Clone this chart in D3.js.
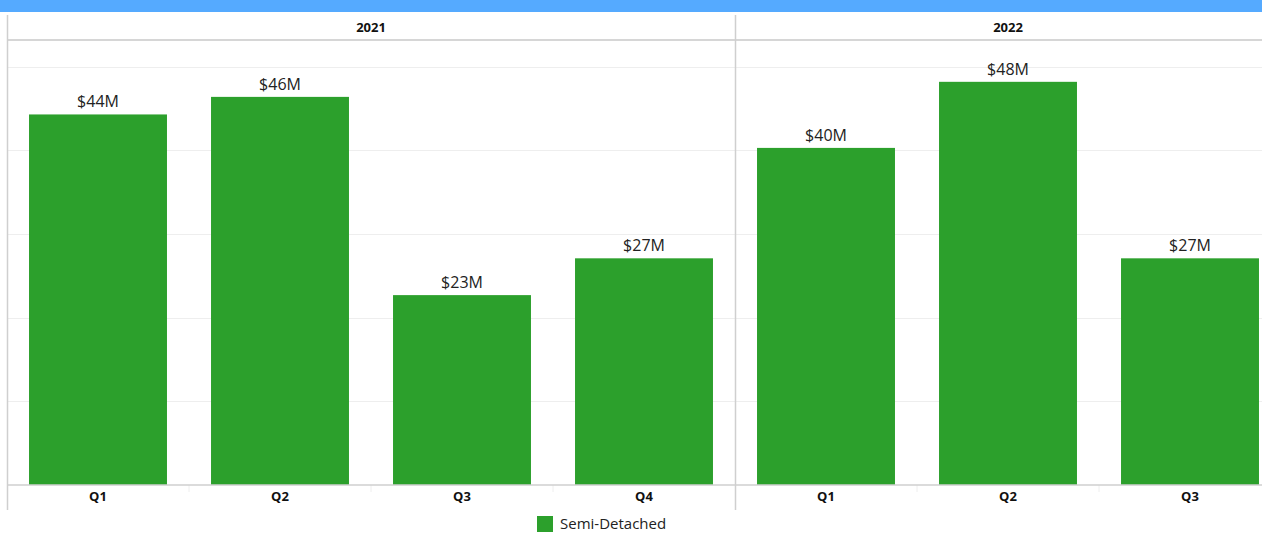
<!DOCTYPE html>
<html>
<head>
<meta charset="utf-8">
<script src="https://cdn.jsdelivr.net/npm/d3@7"></script>
<style>
  html, body { margin: 0; padding: 0; background: #fff; overflow: hidden; }
  svg { display: block; }
</style>
</head>
<body>
<svg id="chart" width="1262" height="533"></svg>
<script>
// Quarterly sales value of semi-detached homes, in $M
const years = ["2021", "2022"];
const quarters2021 = ["Q1", "Q2", "Q3", "Q4"];
const values2021 = [44.3, 46.4, 22.7, 27.1];
const quarters2022 = ["Q1", "Q2", "Q3"];
const values2022 = [40.3, 48.2, 27.1];
const gridTicks = [10, 20, 30, 40, 50];
const seriesName = "Semi-Detached";

const panels = [
  { year: years[0], quarters: quarters2021, values: values2021 },
  { year: years[1], quarters: quarters2022, values: values2022 }
];

const green = "#2ca02c";
const svg = d3.select("#chart");
const W = 1262;

// layout
const left = 7, headerTop = 15, headerBottom = 40, baseY = 485, bottomY = 510;
const bandW = 182;

const y = d3.scaleLinear().domain([0, 53.2]).range([baseY, headerBottom]);

// title band
svg.append("rect").attr("x", 0).attr("y", 0).attr("width", W).attr("height", 12).attr("fill", "#55aaff");

// horizontal gridlines
svg.append("g").selectAll("line").data(gridTicks).join("line")
  .attr("x1", left).attr("x2", W)
  .attr("y1", d => Math.round(y(d)) + 0.5).attr("y2", d => Math.round(y(d)) + 0.5)
  .attr("stroke", "#eeeeee").attr("stroke-width", 1);

// header bottom rule
svg.append("line").attr("x1", left).attr("x2", W)
  .attr("y1", headerBottom).attr("y2", headerBottom)
  .attr("stroke", "#d6d6d6").attr("stroke-width", 2);

let x0 = left;
panels.forEach(p => {
  const x = d3.scaleBand().domain(p.quarters)
    .range([x0, x0 + bandW * p.quarters.length])
    .paddingInner(0.242).paddingOuter(0.121);
  const x1 = x0 + bandW * p.quarters.length;
  const g = svg.append("g");

  // panel divider on the left
  g.append("line").attr("x1", x0 + 0.5).attr("x2", x0 + 0.5)
    .attr("y1", headerTop).attr("y2", bottomY)
    .attr("stroke", "#cfcfcf").attr("stroke-width", 1.5);

  // header label
  g.append("text").attr("x", (x0 + x1) / 2).attr("y", 32)
    .attr("text-anchor", "middle")
    .attr("font-family", "'Open Sans', sans-serif")
    .attr("font-weight", "bold").attr("font-size", 13).attr("fill", "#111")
    .text(p.year);

  const data = p.quarters.map((q, i) => ({ q, v: p.values[i] }));

  // bars
  g.selectAll("rect.bar").data(data).join("rect").attr("class", "bar")
    .attr("x", d => x(d.q)).attr("width", x.bandwidth())
    .attr("y", d => y(d.v)).attr("height", d => baseY - y(d.v))
    .attr("fill", green);

  // value labels
  g.selectAll("text.val").data(data).join("text").attr("class", "val")
    .attr("x", d => x(d.q) + x.bandwidth() / 2)
    .attr("y", d => y(d.v) - 7)
    .attr("text-anchor", "middle")
    .attr("font-family", "'Open Sans', sans-serif").attr("font-size", 16).attr("fill", "#222")
    .text(d => "$" + d3.format(".0f")(d.v) + "M");

  // category axis
  const axis = g.append("g").attr("transform", `translate(0,${baseY})`)
    .call(d3.axisBottom(x).tickSize(0).tickPadding(7));
  axis.select(".domain").remove();
  axis.selectAll("text")
    .attr("font-family", "'Open Sans', sans-serif").attr("font-weight", "bold")
    .attr("font-size", 13).attr("fill", "#111");

  // separators between categories
  g.selectAll("line.sep").data(p.quarters.slice(1)).join("line").attr("class", "sep")
    .attr("x1", d => x(d) - x.step() * x.paddingInner() / 2)
    .attr("x2", d => x(d) - x.step() * x.paddingInner() / 2)
    .attr("y1", baseY).attr("y2", baseY + 7)
    .attr("stroke", "#eeeeee").attr("stroke-width", 1);

  x0 = x1;
});

// baseline
svg.append("line").attr("x1", left).attr("x2", W)
  .attr("y1", baseY).attr("y2", baseY)
  .attr("stroke", "#cfcfcf").attr("stroke-width", 1.5);

// legend
const lg = svg.append("g").attr("transform", "translate(537,516)");
lg.append("rect").attr("width", 16).attr("height", 16).attr("fill", green);
lg.append("text").attr("x", 23).attr("y", 13)
  .attr("font-family", "'Open Sans', sans-serif").attr("font-size", 15).attr("fill", "#222")
  .text(seriesName);
</script>
</body>
</html>
